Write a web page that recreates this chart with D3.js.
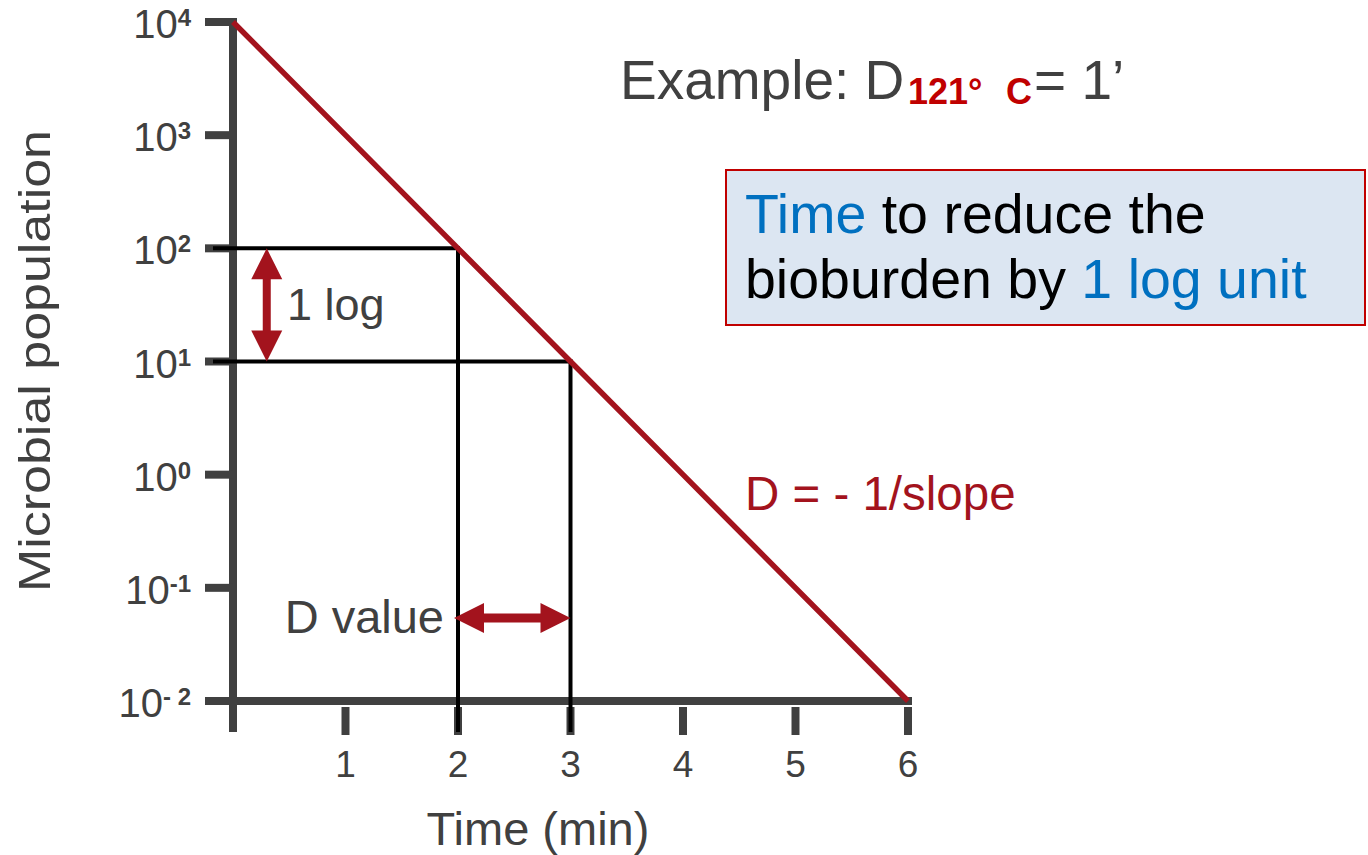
<!DOCTYPE html>
<html>
<head>
<meta charset="utf-8">
<script src="https://cdn.jsdelivr.net/npm/d3@7"></script>
<style>
  html, body { margin: 0; padding: 0; background: #fff; }
  svg { display: block; font-family: "Liberation Sans", Arial, sans-serif; }
</style>
</head>
<body>
<svg id="chart" width="1368" height="855"></svg>
<script>
// Survivor curve: log-linear decline of the microbial population over time
const timeMin = [0, 1, 2, 3, 4, 5, 6];
const population = [1e4, 1e3, 1e2, 1e1, 1e0, 1e-1, 1e-2];

// Axis ticks
const xTicks = [1, 2, 3, 4, 5, 6];
const yTicks = [1e4, 1e3, 1e2, 1e1, 1e0, 1e-1, 1e-2];
const yTickBase = ["10", "10", "10", "10", "10", "10", "10"];
const yTickExp = ["4", "3", "2", "1", "0", "-1", "- 2"];

// D-value construction: two readings one log apart
const readTimes = [2, 3];
const readPops = [1e2, 1e1];
const logArrowTime = 0.3;          // where the "1 log" arrow sits
const dArrowPop = 0.054;           // where the "D value" arrow sits

const lineRed = "#a3131d";
const axisGray = "#404040";

const svg = d3.select("#chart");
const x = d3.scaleLinear().domain([0, 6]).range([233, 908]);
const y = d3.scaleLog().domain([1e-2, 1e4]).range([701, 22]);

const yBottom = 732;   // lower end of y axis and x ticks
const tickLeft = 205;

// ---- axes ----
const axes = svg.append("g").attr("stroke", axisGray).attr("stroke-width", 8);
axes.append("line").attr("x1", x(0)).attr("x2", x(0)).attr("y1", y(1e4) - 4).attr("y2", yBottom);
axes.append("line").attr("x1", x(0) - 4).attr("x2", x(6) + 4).attr("y1", y(1e-2)).attr("y2", y(1e-2));
axes.selectAll(".yt").data(yTicks).join("line")
  .attr("x1", tickLeft).attr("x2", x(0))
  .attr("y1", d => y(d)).attr("y2", d => y(d));
axes.selectAll(".xt").data(xTicks).join("line")
  .attr("x1", d => x(d)).attr("x2", d => x(d))
  .attr("y1", y(1e-2) + 6).attr("y2", yBottom + 3);

// y tick labels: 10 with superscript exponent
const yl = svg.selectAll(".ylab").data(yTicks).join("text")
  .attr("text-anchor", "end")
  .attr("x", 191)
  .attr("y", d => y(d) + 16)
  .attr("fill", axisGray);
yl.append("tspan").attr("font-size", 40).text((d, i) => yTickBase[i]);
yl.append("tspan").attr("font-size", 24).attr("font-weight", "bold")
  .attr("dy", -12).text((d, i) => yTickExp[i]);

// x tick labels
svg.selectAll(".xlab").data(xTicks).join("text")
  .attr("x", d => x(d)).attr("y", 777)
  .attr("text-anchor", "middle").attr("font-size", 37).attr("fill", axisGray)
  .text(d => d);

// axis titles
svg.append("text").attr("x", 538).attr("y", 845)
  .attr("text-anchor", "middle").attr("font-size", 47).attr("fill", axisGray)
  .text("Time (min)");
svg.append("text")
  .attr("transform", "translate(50,361) rotate(-90)")
  .attr("text-anchor", "middle").attr("font-size", 45).attr("fill", axisGray)
  .attr("textLength", 462).attr("lengthAdjust", "spacingAndGlyphs")
  .text("Microbial population");

// ---- D-value construction lines ----
const guides = svg.append("g").attr("stroke", "#000").attr("stroke-width", 4).attr("fill", "none");
readTimes.forEach((t, i) => {
  guides.append("line").attr("x1", tickLeft + 8).attr("x2", x(t) + 2)
    .attr("y1", y(readPops[i])).attr("y2", y(readPops[i]));
  guides.append("line").attr("x1", x(t)).attr("x2", x(t))
    .attr("y1", y(readPops[i]) - 2).attr("y2", yBottom);
});

// ---- survivor line ----
const line = d3.line().x((d, i) => x(timeMin[i])).y(d => y(d));
svg.append("path").datum(population)
  .attr("d", line).attr("fill", "none")
  .attr("stroke", lineRed).attr("stroke-width", 5.5);

// ---- double-headed arrows ----
function doubleArrow(x1, y1, x2, y2, shaft, headLen, headW) {
  const dx = x2 - x1, dy = y2 - y1, L = Math.hypot(dx, dy);
  const ux = dx / L, uy = dy / L, nx = -uy, ny = ux;
  const p = (a, b) => [x1 + ux * a + nx * b, y1 + uy * a + ny * b];
  const pts = [
    p(0, 0), p(headLen, headW / 2), p(headLen, shaft / 2),
    p(L - headLen, shaft / 2), p(L - headLen, headW / 2), p(L, 0),
    p(L - headLen, -headW / 2), p(L - headLen, -shaft / 2),
    p(headLen, -shaft / 2), p(headLen, -headW / 2)
  ];
  svg.append("polygon").attr("points", pts.map(q => q.join(",")).join(" "))
    .attr("fill", lineRed);
}
doubleArrow(x(logArrowTime), y(readPops[0]), x(logArrowTime), y(readPops[1]), 8, 31, 31);
doubleArrow(x(readTimes[0]) - 4, y(dArrowPop), x(readTimes[1]), y(dArrowPop), 9, 30, 30);

// ---- annotations ----
svg.append("text").attr("x", 287).attr("y", 320)
  .attr("font-size", 45).attr("fill", axisGray).text("1 log");
svg.append("text").attr("x", 444).attr("y", 633).attr("text-anchor", "end")
  .attr("font-size", 47).attr("fill", axisGray).text("D value");
svg.append("text").attr("x", 745).attr("y", 510)
  .attr("font-size", 47.5).attr("fill", lineRed).text("D = - 1/slope");

// title with subscripted temperature
const title = svg.append("text").attr("y", 99).attr("fill", axisGray);
title.append("tspan").attr("x", 620).attr("font-size", 55).text("Example: D");
title.append("tspan").attr("x", 908).attr("y", 104).attr("font-size", 36)
  .attr("font-weight", "bold").attr("fill", "#c00000").text("121°");
title.append("tspan").attr("x", 1006).attr("y", 104).attr("font-size", 36)
  .attr("font-weight", "bold").attr("fill", "#c00000").text("C");
title.append("tspan").attr("x", 1034).attr("y", 99).attr("font-size", 55).text("= 1’");

// definition box
svg.append("rect").attr("x", 726).attr("y", 170).attr("width", 639).attr("height", 155)
  .attr("fill", "#dce6f2").attr("stroke", "#c00000").attr("stroke-width", 2);
const def1 = svg.append("text").attr("x", 745).attr("y", 233).attr("font-size", 55.5);
def1.append("tspan").attr("fill", "#0070c0").text("Time");
def1.append("tspan").attr("fill", "#000").text(" to reduce the");
const def2 = svg.append("text").attr("x", 745).attr("y", 298).attr("font-size", 55.5);
def2.append("tspan").attr("fill", "#000").text("bioburden by ");
def2.append("tspan").attr("fill", "#0070c0").text("1 log unit");
</script>
</body>
</html>
